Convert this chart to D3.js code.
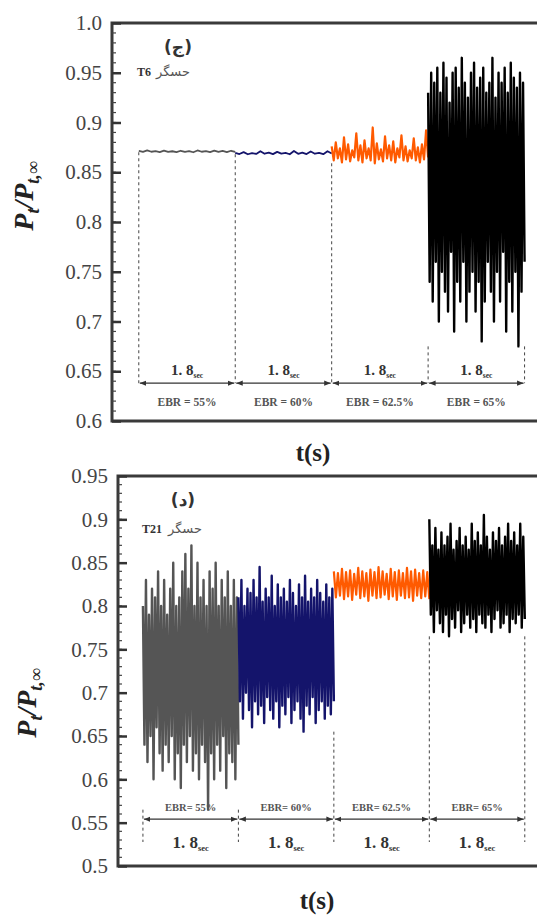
<!DOCTYPE html>
<html><head><meta charset="utf-8">
<script src="https://cdn.jsdelivr.net/npm/d3@7"></script>
<style>
html,body{margin:0;padding:0;background:#fff;}
svg{display:block;}
</style></head>
<body>
<svg id="chart" width="537" height="916"></svg>
<script>
// ---------- DATA ----------
const segmentLabels = ["1.8", "1.8", "1.8", "1.8"];
const segmentDuration = 1.8;
const ebrTop = ["EBR = 55%", "EBR = 60%", "EBR = 62.5%", "EBR = 65%"];
const ebrBottom = ["EBR= 55%", "EBR= 60%", "EBR= 62.5%", "EBR= 65%"];
const segmentColors = ["#555555", "#14146b", "#ff5a00", "#000000"];

const topTicks = [1.0, 0.95, 0.9, 0.85, 0.8, 0.75, 0.7, 0.65, 0.6];
const topTickLabels = ["1.0", "0.95", "0.9", "0.85", "0.8", "0.75", "0.7", "0.65", "0.6"];
const bottomTicks = [0.95, 0.9, 0.85, 0.8, 0.75, 0.7, 0.65, 0.6, 0.55, 0.5];
const bottomTickLabels = ["0.95", "0.9", "0.85", "0.8", "0.75", "0.7", "0.65", "0.6", "0.55", "0.5"];

// Panel (ج) sensor T6 : signal samples per EBR segment
const t6_ebr55 = [0.8715,0.8705,0.872,0.8706,0.8712,0.8702,0.8718,0.8704,0.8711,0.8703,0.8716,0.8705,0.8713,0.8701,0.8719,0.8706,0.8712,0.8703,0.8717,0.8704,0.8714,0.8702,0.8716,0.8705];
const t6_ebr60 = [0.8695,0.8683,0.8702,0.8681,0.8693,0.8684,0.8712,0.8686,0.8697,0.8682,0.8705,0.8687,0.8694,0.8681,0.8714,0.8685,0.8698,0.8683,0.8709,0.8686,0.8695,0.8682,0.8711,0.8688];
const t6_ebr625 = [0.876,0.862,0.88,0.864,0.874,0.86,0.885,0.863,0.878,0.861,0.872,0.865,0.889,0.862,0.877,0.86,0.882,0.864,0.874,0.862,0.895,0.859,0.879,0.863,0.873,0.861,0.886,0.864,0.877,0.862,0.881,0.86,0.874,0.865,0.887,0.862,0.876,0.861,0.872,0.864,0.884,0.862,0.875,0.86,0.878,0.863,0.892,0.865];
const t6_ebr65 = [0.93,0.74,0.95,0.72,0.94,0.76,0.955,0.70,0.93,0.75,0.96,0.73,0.945,0.71,0.92,0.77,0.95,0.69,0.955,0.74,0.935,0.72,0.965,0.76,0.94,0.70,0.925,0.73,0.95,0.75,0.96,0.71,0.935,0.74,0.945,0.68,0.955,0.72,0.93,0.76,0.94,0.73,0.965,0.70,0.925,0.75,0.95,0.72,0.94,0.77,0.955,0.69,0.93,0.74,0.96,0.71,0.945,0.75,0.935,0.675,0.95,0.73,0.94,0.76];

// Panel (د) sensor T21
const t21_ebr55 = [0.80,0.64,0.83,0.62,0.79,0.65,0.82,0.60,0.81,0.66,0.84,0.63,0.80,0.61,0.83,0.64,0.79,0.62,0.82,0.65,0.85,0.60,0.80,0.63,0.81,0.59,0.84,0.64,0.86,0.62,0.82,0.65,0.87,0.61,0.80,0.63,0.85,0.60,0.81,0.64,0.83,0.62,0.80,0.565,0.84,0.63,0.82,0.60,0.85,0.64,0.80,0.61,0.83,0.65,0.81,0.59,0.84,0.63,0.80,0.62,0.83,0.60,0.81,0.64];
const t21_ebr60 = [0.81,0.69,0.83,0.67,0.80,0.70,0.82,0.68,0.815,0.66,0.83,0.69,0.81,0.675,0.845,0.685,0.805,0.665,0.82,0.695,0.81,0.68,0.835,0.67,0.80,0.69,0.825,0.66,0.81,0.685,0.82,0.675,0.805,0.695,0.83,0.665,0.815,0.68,0.80,0.69,0.825,0.67,0.81,0.655,0.835,0.685,0.805,0.675,0.82,0.695,0.81,0.665,0.83,0.68,0.815,0.69,0.805,0.67,0.825,0.685,0.81,0.675,0.82,0.69];
const t21_ebr625 = [0.84,0.81,0.838,0.812,0.843,0.808,0.839,0.811,0.841,0.807,0.837,0.813,0.844,0.809,0.84,0.811,0.838,0.806,0.842,0.812,0.839,0.809,0.845,0.81,0.84,0.813,0.837,0.808,0.843,0.811,0.839,0.807,0.841,0.812,0.838,0.809,0.844,0.81,0.84,0.806,0.842,0.812,0.838,0.809,0.841,0.811,0.839,0.808];
const t21_ebr65 = [0.90,0.79,0.87,0.77,0.89,0.795,0.865,0.78,0.885,0.77,0.87,0.79,0.88,0.765,0.895,0.785,0.865,0.775,0.875,0.795,0.89,0.77,0.87,0.78,0.88,0.79,0.865,0.775,0.895,0.785,0.875,0.77,0.885,0.79,0.87,0.78,0.905,0.775,0.88,0.79,0.865,0.77,0.885,0.785,0.875,0.795,0.89,0.775,0.87,0.78,0.88,0.79,0.895,0.77,0.875,0.785,0.885,0.78,0.87,0.79,0.895,0.775,0.88,0.785];

// ---------- DRAW ----------
const svg = d3.select("#chart");
const serif = "'Liberation Serif','Times New Roman',serif";

const panels = [
  {
    segs: [t6_ebr55, t6_ebr60, t6_ebr625, t6_ebr65],
    widths: [1.8, 1.8, 2.2, 2.4],
    x: d3.scaleLinear().domain([-0.5, 7.6]).range([112, 546]),
    y: d3.scaleLinear().domain([0.6, 1.0]).range([421, 23]),
    ticks: topTicks, tickLabels: topTickLabels, ebr: ebrTop,
    arrowV: 0.638, durLabelY: 375, ebrY: 406, ebrSize: 11.5, durSize: 15,
    letter: "(ج)", letterX: 178, letterY: 53, sensor: "T6", sensorX: 137, sensorY: 76,
    xlabelX: 313, xlabelY: 461, ylabelX: 33, ylabelY: 196
  },
  {
    segs: [t21_ebr55, t21_ebr60, t21_ebr625, t21_ebr65],
    widths: [2.4, 2.4, 2.2, 2.4],
    x: d3.scaleLinear().domain([-0.47, 7.6]).range([118, 546]),
    y: d3.scaleLinear().domain([0.5, 0.95]).range([866, 476]),
    ticks: bottomTicks, tickLabels: bottomTickLabels, ebr: ebrBottom,
    arrowV: 0.554, durLabelY: 848, ebrY: 811, ebrSize: 10.5, durSize: 17,
    letter: "(د)", letterX: 183, letterY: 506, sensor: "T21", sensorX: 142, sensorY: 533,
    xlabelX: 317, xlabelY: 909, ylabelX: 36, ylabelY: 703
  }
];

const defs = svg.append("defs");
defs.append("marker").attr("id","arrEnd").attr("viewBox","0 0 10 10").attr("refX",10).attr("refY",5)
  .attr("markerWidth",5).attr("markerHeight",5).attr("orient","auto")
  .append("path").attr("d","M0,1 L10,5 L0,9 Z").attr("fill","#333");
defs.append("marker").attr("id","arrStart").attr("viewBox","0 0 10 10").attr("refX",0).attr("refY",5)
  .attr("markerWidth",5).attr("markerHeight",5).attr("orient","auto")
  .append("path").attr("d","M10,1 L0,5 L10,9 Z").attr("fill","#333");

panels.forEach((p, pi) => {
  const g = svg.append("g");
  const [x0, x1] = p.x.range();
  const [yB, yT] = p.y.range();

  // signal
  p.segs.forEach((vals, i) => {
    const t0 = i * segmentDuration;
    const pts = vals.map((v, j) => [p.x(t0 + segmentDuration * j / (vals.length - 1)), p.y(v)]);
    g.append("path").attr("d", d3.line()(pts))
      .attr("fill","none").attr("stroke", segmentColors[i]).attr("stroke-width", p.widths[i])
      .attr("stroke-linejoin","round");
  });

  // dashed separators
  const bounds = d3.range(5).map(i => i * segmentDuration);
  bounds.forEach((t, i) => {
    const adj = [];
    if (i > 0) adj.push(d3.min(p.segs[i-1]));
    if (i < 4) adj.push(d3.min(p.segs[i]));
    const topV = d3.min(adj);
    const bottomPx = pi === 0 ? p.y(p.arrowV) : p.durLabelY - 6;
    g.append("line").attr("x1", p.x(t)).attr("x2", p.x(t))
      .attr("y1", p.y(topV)).attr("y2", bottomPx)
      .attr("stroke","#444").attr("stroke-width",1).attr("stroke-dasharray","3,3");
  });

  // arrows + labels
  d3.range(4).forEach(i => {
    const a = p.x(i * segmentDuration), b = p.x((i + 1) * segmentDuration);
    g.append("line").attr("x1", a + 1).attr("x2", b - 1)
      .attr("y1", p.y(p.arrowV)).attr("y2", p.y(p.arrowV))
      .attr("stroke","#333").attr("stroke-width",1.3)
      .attr("marker-start","url(#arrStart)").attr("marker-end","url(#arrEnd)");
    const dl = g.append("text").attr("x", (a + b) / 2).attr("y", p.durLabelY)
      .attr("text-anchor","middle").attr("font-family", serif).attr("font-weight","bold")
      .attr("fill","#333").attr("font-size", p.durSize);
    dl.append("tspan").text(segmentLabels[i].replace(".", ". "));
    dl.append("tspan").text("sec").attr("font-size", p.durSize * 0.5).attr("dy", 3);
    g.append("text").attr("x", (a + b) / 2).attr("y", p.ebrY)
      .attr("text-anchor","middle").attr("font-family", serif).attr("font-weight","bold")
      .attr("fill","#555").attr("font-size", p.ebrSize).text(p.ebr[i]);
  });

  // frame
  g.append("path").attr("d", `M${x1},${yT} L${x0},${yT} L${x0},${yB} L${x1},${yB}`)
    .attr("fill","none").attr("stroke","#3a3a3a").attr("stroke-width",3);

  // ticks
  const yMin = p.y.domain()[0], yMax = p.y.domain()[1];
  const minor = d3.range(Math.round(yMin * 100), Math.round(yMax * 100) + 1).map(v => v / 100);
  minor.forEach(v => {
    g.append("line").attr("x1", x0).attr("x2", x0 + 4).attr("y1", p.y(v)).attr("y2", p.y(v))
      .attr("stroke","#444").attr("stroke-width",1.2);
  });
  const axis = d3.axisLeft(p.y).tickValues(p.ticks).tickFormat((d, i) => p.tickLabels[i])
    .tickSizeInner(-9).tickSizeOuter(0).tickPadding(10);
  const ag = g.append("g").attr("transform", `translate(${x0},0)`).call(axis);
  ag.select(".domain").remove();
  ag.selectAll(".tick line").attr("stroke","#333").attr("stroke-width",2.5);
  ag.selectAll(".tick text").attr("font-family", serif).attr("font-size", 21).attr("fill","#444");

  // panel letter and sensor
  g.append("text").attr("x", p.letterX).attr("y", p.letterY).attr("text-anchor","middle")
    .attr("font-family", "'DejaVu Sans', serif").attr("font-weight","bold").attr("font-size",17)
    .attr("fill","#333").text(p.letter);
  g.append("text").attr("x", p.sensorX).attr("y", p.sensorY)
    .attr("font-family", serif).attr("font-weight","bold").attr("font-size",12).attr("fill","#333").text(p.sensor);
  g.append("text").attr("x", p.sensorX + (p.sensor.length * 7) + 5).attr("y", p.sensorY)
    .attr("font-family", "'DejaVu Sans', sans-serif").attr("font-size",13).attr("fill","#555")
    .attr("text-anchor","start").text("حسگر");

  // x label
  g.append("text").attr("x", p.xlabelX).attr("y", p.xlabelY).attr("text-anchor","middle")
    .attr("font-family", serif).attr("font-weight","bold").attr("font-size",25).attr("fill","#222").text("t(s)");

  // y label
  const yl = g.append("text").attr("transform", `translate(${p.ylabelX},${p.ylabelY}) rotate(-90)`)
    .attr("text-anchor","middle").attr("font-family", serif).attr("font-weight","bold")
    .attr("font-size",28).attr("fill","#222");
  yl.append("tspan").text("P").attr("font-style","italic");
  yl.append("tspan").text("t").attr("font-style","italic").attr("font-size",18).attr("dy",6);
  yl.append("tspan").text("/P").attr("font-style","italic").attr("dy",-6);
  yl.append("tspan").text("t,∞").attr("font-style","italic").attr("font-size",18).attr("dy",6);
});
</script>
</body></html>
